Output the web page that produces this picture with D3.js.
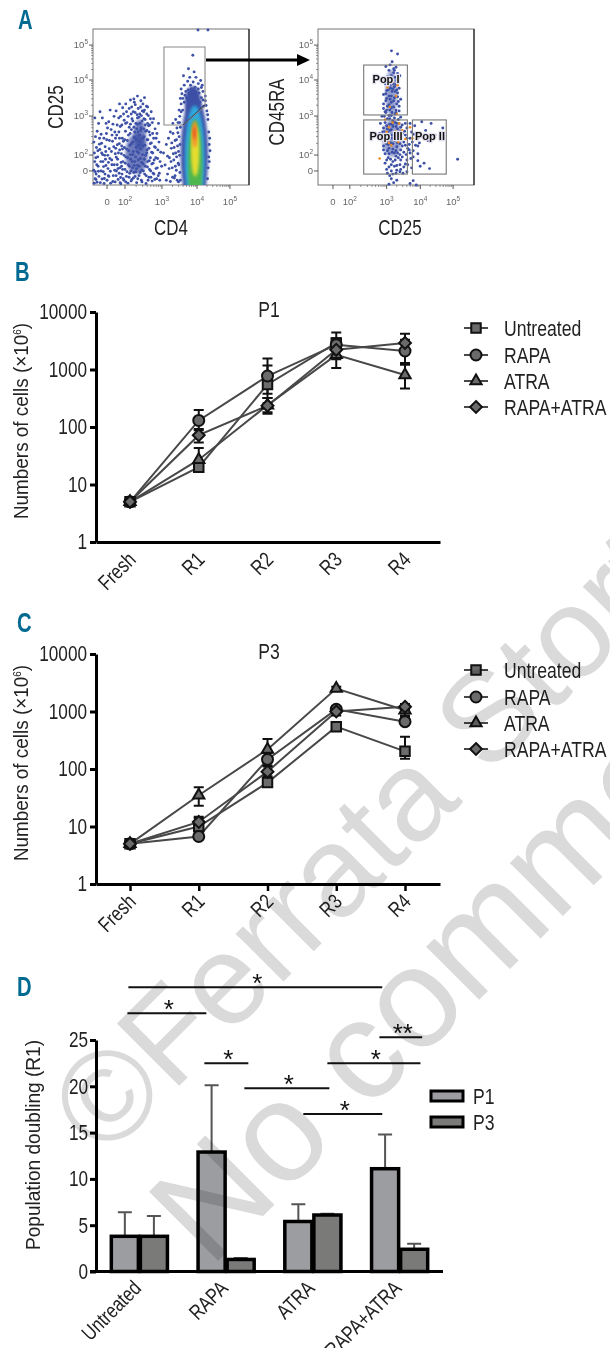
<!DOCTYPE html>
<html>
<head>
<meta charset="utf-8">
<script src="https://d3js.org/d3.v7.min.js"></script>
<style>
  html, body { margin: 0; padding: 0; background: #fff; }
  text { font-family: "Liberation Sans", sans-serif; fill: #222; }
</style>
</head>
<body>
<script>
// line chart values
const rounds = ['Fresh', 'R1', 'R2', 'R3', 'R4'];
const treatments = ['Untreated', 'RAPA', 'ATRA', 'RAPA+ATRA'];
const logTicks = [1, 10, 100, 1000, 10000];

const p1Untreated = [5, 20, 550, 2900, null];
const p1Rapa = [5, 130, 770, 2700, 2100];
const p1Atra = [5, 27, 240, 1800, 800];
const p1Both = [5, 72, 235, 2200, 2900];
const p1High = [[null, 24, 1170, 3500, null], [null, 197, 1550, 4400, 3300], [null, 43, 320, 2700, 1210], [null, 92, 320, 3000, 4200]];
const p1Low = [[null, 17, 260, 2300, null], [null, 88, 380, 1700, 1300], [null, 18, 180, 1060, 465], [null, 54, 170, 1500, 2000]];

const p3Untreated = [5, 10, 58, 545, 203];
const p3Rapa = [5, 6.7, 147, 1090, 665];
const p3Atra = [5, 35, 219, 2500, 1050];
const p3Both = [5, 12, 90, 1000, 1210];
const p3High = [[null, 14.8, 70, 600, 365], [null, 7.5, 190, 1250, 800], [null, 48, 333, 2700, 1300], [null, 14, 110, 1150, 1350]];
const p3Low = [[null, 8, 50, 500, 150], [null, 6, 115, 950, 600], [null, 23, 150, 2300, 850], [null, 10, 75, 850, 1100]];

// bar chart values
const doublingGroups = ['Untreated', 'RAPA', 'ATRA', 'RAPA+ATRA'];
const doublingSeries = ['P1', 'P3'];
const doublingP1 = [3.8, 12.9, 5.4, 11.1];
const doublingP3 = [3.8, 1.3, 6.1, 2.4];
const doublingP1Top = [6.4, 20.1, 7.25, 14.8];
const doublingP3Top = [6.0, 1.45, 6.25, 3.0];
const doublingTicks = [0, 5, 10, 15, 20, 25];
// [from group, to group, level, mark]
const sigBars = [
  [-0.127, 2.80, 30.7, '*'], [-0.138, 0.772, 27.9, '*'], [0.749, 1.256, 22.5, '*'],
  [1.21, 2.19, 19.8, '*'], [1.89, 2.80, 17, '*'], [2.167, 3.24, 22.5, '*'], [2.767, 3.26, 25.3, '**']
];

// flow plots, values are display channels 0-1000 on both axes
const flowTickLabels = ['0', '2', '3', '4', '5'];
const cd4Ticks = [90, 205, 442, 667, 878];
const cd25TicksY = [90, 192, 442, 673, 897];
const cd25Ticks = [96, 204, 440, 656, 866];
const cd45Ticks = [90, 192, 442, 673, 897];

const cd4Gate = [[455, 885], [718, 885], [718, 506], [577, 385], [455, 385]];
const gateSplit = [[577, 385], [718, 515]];
const popGates = [[293, 573, 449, 769], [293, 573, 70, 417], [605, 822, 70, 417]];
const popNames = ['Pop I', 'Pop III', 'Pop II'];
const popLabelPos = [[436, 654], [436, 288], [718, 288]];

// density layers of the CD4+ population: cx, cy, rx, ry
const hotLayers = [[640, 530, 52, 105], [650, 200, 88, 370], [652, 170, 64, 340], [655, 130, 46, 290], [655, 220, 27, 165], [652, 325, 17, 85], [650, 335, 9, 42]];
const hotColors = ['#3c50a6', '#3c50a6', '#2fa9dc', '#4fb74e', '#e6dd2e', '#f2902a', '#e9531f'];
const coreLayers = [[280, 200, 72, 130], [300, 320, 40, 100]];
const columnLayers = [[470, 590, 38, 150], [475, 300, 62, 120]];

const cd4Cloud = [[8,12],[14,40],[5,95],[20,70],[11,150],[26,18],[33,120],[9,205],[38,55],[22,240],[47,15],[16,310],[52,90],[30,180],[58,38],[6,275],[64,150],[44,228],[71,10],[27,345],[77,70],[55,268],[83,125],[62,195],[90,30],[70,300],[96,105],[78,245],[102,55],[36,395],[108,170],[86,330],[113,12],[60,430],[118,215],[93,365],[12,430],[45,470],[130,60],[125,280],[136,130],[128,390],[142,20],[146,235],[150,90],[152,320],[158,165],[161,35],[165,430],[169,265],[172,110],[175,375],[178,8],[182,200],[186,70],[188,300],[192,150],[196,455],[198,30],[201,240],[205,100],[208,345],[211,180],[214,55],[217,400],[220,285],[224,12],[226,130],[229,220],[232,490],[235,75],[238,330],[241,165],[244,25],[247,265],[250,425],[253,110],[256,195],[259,45],[262,370],[265,305],[268,150],[271,515],[274,85],[277,240],[280,15],[283,450],[286,125],[289,340],[292,205],[295,60],[298,280],[301,395],[304,170],[307,540],[310,30],[313,95],[316,475],[319,250],[322,135],[325,360],[328,310],[331,70],[334,420],[337,190],[340,10],[343,505],[346,225],[349,115],[352,290],[355,445],[358,50],[361,155],[364,385],[367,265],[370,90],[373,470],[376,210],[379,25],[382,330],[385,140],[388,425],[391,70],[394,245],[398,360],[402,175],[405,300],[408,40],[412,110],[416,225],[420,395],[425,75],[430,150],[240,545],[262,552],[285,570],[210,520],[305,500],[330,480],[345,455],[368,425],[225,440],[258,470],[190,495],[170,520],[330,560],[295,435],[315,410],[350,395],[170,300],[135,440],[110,480],
  [148,60],[155,130],[163,205],[168,75],[174,15],[180,145],[184,250],[190,100],[194,40],[199,190],[203,290],[207,140],[210,20],[215,230],[218,85],[222,175],[227,320],[231,50],[234,120],[237,255],[240,195],[243,90],[246,355],[249,35],[252,150],[255,275],[258,215],[261,80],[264,125],[267,340],[270,55],[273,180],[276,290],[279,105],[282,215],[284,390],[287,40],[290,160],[293,255],[296,120],[299,320],[302,80],[305,230],[308,365],[311,145],[314,20],[317,195],[320,300],[323,90],[326,425],[329,165],[332,255],[335,120],[338,345],[341,60],[344,205],[347,290],[350,150],[353,30],[356,380],[359,235],[362,100],[365,320],[368,175],[371,50],[374,270],[377,135],[380,400],[383,205],[386,75],[389,300],[392,160],[396,35],[400,240],[404,105],[410,330],[414,170],[418,60],[423,275],[428,30],[434,210],[440,120],
  [285,430],[300,455],[320,520],[275,395],[335,385],[270,465],[310,445],[345,350],[255,410],[325,470],[290,490],[360,340],[305,350],[280,360],[240,390],[350,500],[265,530],[248,500],[215,470],[200,415],[185,385],[155,385],[140,340],[122,320],[105,285],[95,190],[80,165],[66,85],[50,150],[42,300],[24,130],[15,85],
  [18,175],[35,88],[41,262],[56,205],[68,118],[73,42],[82,215],[88,290],[99,145],[104,232],[111,88],[116,355],[120,160],[127,22],[133,245],[139,95],[144,300],[149,178],[156,258],[160,105],[166,340],[171,225],[177,48],[183,120],[189,230],[195,280],[143,200],[121,130],[98,60],[75,190],[52,325],[31,220],[19,35],[101,405],[84,395],[148,475],[177,440],[209,395],[232,370],[245,455]];
const cd4Side = [[452,205],[462,128],[470,260],[478,70],[484,300],[490,175],[496,22],[502,235],[508,110],[513,330],[518,160],[522,45],[526,285],[530,205],[534,95],[538,365],[542,250],[546,140],[548,20],[552,310],[555,190],[557,80],[496,340],[512,395],[530,420],[545,400],[478,185],[526,60],[505,270],[540,30],[520,240],[536,180],[550,130],[515,200],[528,120],[544,335],[558,260],[560,370],[535,290],[510,50],[560,30],[548,215],[500,150],[488,105],[470,30]];
const cd4Upper = [[580,700],[612,745],[640,832],[625,640],[655,625],[690,670],[610,610],[660,690],[595,600],[640,590],[675,615],[705,600],[570,585],[600,560],[630,555],[665,575],[695,560],[720,540],[585,530],[615,520],[650,530],[685,530],[710,505],[565,520],[575,480],[730,475],[737,420],[742,340],[745,260],[742,180],[738,110],[734,40],[556,440],[552,480],[673,994],[737,994],[648,725],[620,690],[675,650],[585,640],[607,665],[565,615],[700,640],[720,570],[642,660],[590,575],[615,590],[650,570],[680,590],[705,545],[575,555],[620,570],[660,600],[695,625],[630,615],[605,545],[725,510],[565,470],[735,450],[748,300],[750,220],[560,555],[745,150],[555,400]];

const popColumn = [[471,860],[510,840],[475,790],[435,760],[500,755],[455,735],[485,720],[525,700],[445,695],[470,680],[505,670],[430,650],[460,640],[490,630],[520,620],[440,605],[475,600],[510,590],[420,580],[455,570],[490,560],[530,550],[435,540],[470,530],[505,520],[445,505],[485,500],[420,490],[460,480],[520,475],[435,465],[495,455],[470,445],[410,440],[445,425],[515,420],[480,410],[430,400],[460,390],[540,385],[500,375],[420,365],[470,355],[525,345],[445,335],[490,325],[560,320],[410,310],[465,300],[515,295],[440,285],[550,275],[480,265],[585,260],[420,250],[505,245],[455,235],[530,225],[610,220],[475,210],[430,200],[565,195],[500,185],[450,175],[595,170],[530,160],[480,150],[430,140],[560,135],[505,125],[455,115],[600,110],[530,100],[470,90],[500,75],[570,85],[445,75],[620,380],[600,340],[640,300],[590,300],[625,255],[470,40],[485,15],[455,5],[505,30],[610,28],[590,10],[630,0],[640,200],[665,405],[690,350],[725,395],[800,365],[665,310],[705,285],[750,320],[640,155],[655,120],[680,140],[715,105],[895,165],[470,570],[482,650],[495,690],[450,610],[505,610],[440,555],[515,535],[470,495],[500,480],[430,470],[455,445],[530,435],[480,375],[445,360],[510,360],[425,340],[540,330],[475,320],[510,270],[450,260],[540,250],[420,225],[480,230],[575,235],[510,205],[455,200],[540,180],[490,120],[525,130],[470,130],[570,160],[590,205],[490,285],[530,300],[440,310],[425,280],[570,300],[520,395],[560,395],[590,395],[495,400],[460,350],
  [450,660],[480,615],[500,645],[465,620],[495,600],[435,585],[510,565],[462,550],[485,540],[420,520],[455,515],[520,505],[440,480],[500,465],[475,465],[425,440],[490,430],[460,425],[505,395],[440,380],[475,390],[530,370],[415,340],[500,340],[450,320],[555,345],[480,300],[440,265],[525,265],[465,270],[500,220],[560,255],[445,220],[490,205],[525,195],[465,165],[515,175],[585,225],[605,275],[550,210],[440,160],[495,160],[550,115],[440,100],[505,95],[545,75],[480,70],[525,85],[460,60],[420,300],[395,330],[400,395],[570,365],[615,325],[650,270],[640,250],[610,180],[575,130],[470,700],[455,675],[490,735],[510,715],[462,770],[485,745]];
const popOrange = [[478,660],[510,640],[445,625],[500,570],[460,500],[505,455],[430,420],[478,400],[520,395],[455,370],[500,345],[440,340],[540,350],[590,370],[605,300],[455,270],[515,275],[395,170],[560,295],[470,255]];

const width = 610;
const height = 1348;
const narrowness = 0.8;

const svg = d3.select('body')
  .append('svg')
  .attr('width', width)
  .attr('height', height)
  .style('display', 'block');

const defs = svg.append('defs');
defs.append('filter')
  .attr('id', 'soft')
  .append('feGaussianBlur')
  .attr('stdDeviation', 1.5);

// panel letters
[['A', 18, 29], ['B', 15, 281], ['C', 17, 632], ['D', 17, 996]].forEach(([t, x, y]) => {
  svg.append('text')
    .attr('x', x).attr('y', y)
    .attr('font-size', 27)
    .attr('font-weight', 'bold')
    .attr('data-k', 0.75)
    .style('fill', '#006a91')
    .text(t);
});

// one flow plot: frame, ticks and tick labels
function flowFrame(left, xTicks, yTicks) {
  const x = d3.scaleLinear().domain([0, 1000]).range([left, left + 156]);
  const y = d3.scaleLinear().domain([0, 1000]).range([185, 29]);
  const g = svg.append('g');

  g.append('rect')
    .attr('x', left).attr('y', 29)
    .attr('width', 156).attr('height', 156)
    .attr('fill', 'none')
    .attr('stroke', '#777')
    .attr('stroke-width', 1);
  g.append('line').attr('x1', left + 156).attr('x2', left + 156).attr('y1', 29).attr('y2', 185)
    .attr('stroke', '#222').attr('stroke-width', 1.2);

  const minor = t => d3.range(1, t.length - 1).flatMap(i =>
    d3.range(2, 10).map(k => t[i] + Math.log10(k) * (t[i + 1] - t[i])));

  g.selectAll('.xm').data(minor(xTicks)).enter().append('line')
    .attr('x1', d => x(d)).attr('x2', d => x(d)).attr('y1', 185).attr('y2', 187)
    .attr('stroke', '#666').attr('stroke-width', 0.7);
  g.selectAll('.ym').data(minor(yTicks)).enter().append('line')
    .attr('y1', d => y(d)).attr('y2', d => y(d)).attr('x1', left).attr('x2', left - 2)
    .attr('stroke', '#666').attr('stroke-width', 0.7);
  g.selectAll('.xt').data(xTicks).enter().append('line')
    .attr('x1', d => x(d)).attr('x2', d => x(d)).attr('y1', 185).attr('y2', 189)
    .attr('stroke', '#444').attr('stroke-width', 0.9);
  g.selectAll('.yt').data(yTicks).enter().append('line')
    .attr('y1', d => y(d)).attr('y2', d => y(d)).attr('x1', left).attr('x2', left - 4)
    .attr('stroke', '#444').attr('stroke-width', 0.9);

  const tickLabel = (sel, i) => {
    sel.style('fill', '#666').attr('font-size', 9.5).attr('data-k', 1);
    if (i === 0) { sel.text('0'); return; }
    sel.append('tspan').text('10');
    sel.append('tspan').attr('dy', -4).attr('font-size', 6.5).text(flowTickLabels[i]);
  };
  xTicks.forEach((t, i) => {
    g.append('text').attr('x', x(t)).attr('y', 205)
      .attr('text-anchor', 'middle').call(tickLabel, i);
  });
  yTicks.forEach((t, i) => {
    g.append('text').attr('x', left - 5).attr('y', y(t) + 3)
      .attr('text-anchor', 'end').call(tickLabel, i);
  });
  return { x, y, g };
}

function dots(f, data, r, color) {
  f.g.selectAll(null).data(data).enter().append('circle')
    .attr('cx', d => f.x(d[0]))
    .attr('cy', d => f.y(d[1]))
    .attr('r', r)
    .attr('fill', color);
}

function blobs(f, parent, data, fill, opacity) {
  parent.selectAll(null).data(data).enter().append('ellipse')
    .attr('cx', d => f.x(d[0]))
    .attr('cy', d => f.y(d[1]))
    .attr('rx', d => f.x(d[2]) - f.x(0))
    .attr('ry', d => f.y(0) - f.y(d[3]))
    .attr('fill', fill)
    .attr('opacity', opacity)
    .attr('filter', 'url(#soft)');
}

// left flow plot, CD4 against CD25
const flowA = flowFrame(93, cd4Ticks, cd25TicksY);
defs.append('clipPath').attr('id', 'flowClip')
  .append('rect').attr('x', 93).attr('y', 29).attr('width', 156).attr('height', 156);
const hot = flowA.g.append('g').attr('clip-path', 'url(#flowClip)');
blobs(flowA, hot, coreLayers, '#3c50a6', 0.75);
blobs(flowA, hot, hotLayers, (d, i) => hotColors[i], 1);
dots(flowA, cd4Cloud, 1.45, '#3c50a6');
dots(flowA, cd4Side, 1.45, '#3c50a6');
dots(flowA, cd4Upper, 1.45, '#3c50a6');

const gateLine = d3.line().x(d => flowA.x(d[0])).y(d => flowA.y(d[1]));
flowA.g.append('path')
  .attr('d', gateLine(cd4Gate) + 'Z')
  .attr('fill', 'none').attr('stroke', '#8a8a8a').attr('stroke-width', 1.1);
flowA.g.append('path').attr('d', gateLine(gateSplit))
  .attr('fill', 'none').attr('stroke', '#223').attr('stroke-width', 0.7);

// right flow plot, CD25 against CD45RA
const flowB = flowFrame(318, cd25Ticks, cd45Ticks);
blobs(flowB, flowB.g, columnLayers, '#3c50a6', 0.55);
dots(flowB, popColumn, 1.45, '#3c50a6');
dots(flowB, popOrange, 1.3, '#ef8a1f');
flowB.g.selectAll('.gate').data(popGates).enter().append('rect')
  .attr('x', d => flowB.x(d[0]))
  .attr('y', d => flowB.y(d[3]))
  .attr('width', d => flowB.x(d[1]) - flowB.x(d[0]))
  .attr('height', d => flowB.y(d[2]) - flowB.y(d[3]))
  .attr('fill', 'none').attr('stroke', '#777').attr('stroke-width', 1.1);
popNames.forEach((name, i) => {
  flowB.g.append('text')
    .attr('x', flowB.x(popLabelPos[i][0]))
    .attr('y', flowB.y(popLabelPos[i][1]))
    .attr('text-anchor', 'middle')
    .attr('font-size', 11)
    .attr('font-weight', 'bold')
    .attr('stroke', '#e6e3f0')
    .attr('stroke-width', 2.5)
    .attr('data-k', 1)
    .style('paint-order', 'stroke')
    .style('fill', '#111')
    .text(name);
});

// gate arrow between the two plots
svg.append('line').attr('x1', 206).attr('x2', 298).attr('y1', 60).attr('y2', 60)
  .attr('stroke', '#000').attr('stroke-width', 3);
svg.append('path').attr('d', 'M297,54L310,60L297,66Z').attr('fill', '#000');

function axisText(t, x, y, rotate) {
  return svg.append('text')
    .attr('transform', `translate(${x},${y})` + (rotate ? ' rotate(-90)' : ''))
    .attr('text-anchor', 'middle')
    .attr('font-size', 22)
    .attr('data-k', 0.77)
    .text(t);
}
axisText('CD25', 63, 107, true);
axisText('CD4', 171, 235, false);
axisText('CD45RA', 284, 112, true);
axisText('CD25', 400, 235, false);

const symbols = [d3.symbolSquare, d3.symbolCircle, d3.symbolTriangle, d3.symbolDiamond2];
const symbolSizes = [90, 95, 55, 90];

// panels B and C share the same layout
function linePanel(top, title, series, high, low, showTicks, legendY) {
  const x = d3.scalePoint().domain(rounds).range([130, 405]);
  const y = d3.scaleLog().domain([1, 10000]).range([top + 230, top]);
  const g = svg.append('g');

  const xAxis = d3.axisBottom(d3.scaleLinear().domain([96, 440]).range([96, 440]))
    .tickValues([]).tickSizeOuter(0);
  const yAxis = d3.axisLeft(y).tickValues(logTicks).tickFormat(d3.format('d')).tickSize(6).tickSizeOuter(0);

  const ga = g.append('g').attr('transform', `translate(0,${top + 230})`).call(xAxis);
  ga.select('.domain').attr('stroke', '#000').attr('stroke-width', 3);
  if (showTicks) {
    const gt = g.append('g').attr('transform', `translate(0,${top + 230})`)
      .call(d3.axisBottom(x).tickSize(7).tickFormat(''));
    gt.select('.domain').remove();
    gt.selectAll('line').attr('stroke', '#000').attr('stroke-width', 2.5);
  }
  g.append('g').selectAll('text').data(rounds).enter().append('text')
    .attr('transform', d => `translate(${x(d) + 7},${top + 249}) rotate(-45)`)
    .attr('text-anchor', 'end')
    .attr('font-size', 21)
    .text(d => d);

  const gy = g.append('g').attr('transform', 'translate(96,0)').call(yAxis);
  gy.select('.domain').attr('stroke', '#000').attr('stroke-width', 3);
  gy.selectAll('.tick line').attr('stroke', '#000').attr('stroke-width', 3);
  gy.selectAll('.tick text')
    .attr('font-size', 21.5)
    .attr('x', -9)
    .style('font-family', '"Liberation Sans", sans-serif')
    .style('fill', '#222');

  const yl = svg.append('text')
    .attr('transform', `translate(28,${top + 109}) rotate(-90)`)
    .attr('text-anchor', 'middle')
    .attr('font-size', 21)
    .attr('data-k', 0.9);
  yl.append('tspan').text('Numbers of cells (×10');
  yl.append('tspan').attr('dy', -7).attr('font-size', 11).text('6');
  yl.append('tspan').attr('dy', 7).text(')');

  g.append('text').attr('x', 269).attr('y', top + 5)
    .attr('text-anchor', 'middle').attr('font-size', 22).text(title);

  const line = d3.line()
    .defined(d => d != null)
    .x((d, i) => x(rounds[i]))
    .y(d => y(d));

  series.forEach(values => {
    g.append('path')
      .attr('d', line(values))
      .attr('fill', 'none')
      .attr('stroke', '#484848')
      .attr('stroke-width', 2);
  });
  series.forEach((values, s) => {
    rounds.forEach((r, i) => {
      if (high[s][i] == null) return;
      const path = `M${x(r)},${y(low[s][i])}V${y(high[s][i])}` +
        `M${x(r) - 5},${y(high[s][i])}h10M${x(r) - 5},${y(low[s][i])}h10`;
      g.append('path').attr('d', path).attr('fill', 'none')
        .attr('stroke', '#111').attr('stroke-width', 2);
    });
  });
  series.forEach((values, s) => {
    g.selectAll(null).data(values.map((v, i) => [v, i]).filter(d => d[0] != null)).enter().append('path')
      .attr('d', d3.symbol().type(symbols[s]).size(symbolSizes[s]))
      .attr('transform', d => `translate(${x(rounds[d[1]])},${y(d[0])})`)
      .attr('fill', '#6b6b6b')
      .attr('stroke', '#111')
      .attr('stroke-width', 2);
  });

  // legend
  treatments.forEach((t, i) => {
    g.append('line').attr('x1', 464).attr('x2', 488).attr('y1', legendY[i]).attr('y2', legendY[i])
      .attr('stroke', '#484848').attr('stroke-width', 2);
    g.append('path')
      .attr('d', d3.symbol().type(symbols[i]).size(symbolSizes[i]))
      .attr('transform', `translate(476,${legendY[i]})`)
      .attr('fill', '#6b6b6b').attr('stroke', '#111').attr('stroke-width', 2);
    g.append('text').attr('x', 504).attr('y', legendY[i] + 8)
      .attr('font-size', 22).text(t);
  });
}

linePanel(312, 'P1', [p1Untreated, p1Rapa, p1Atra, p1Both], p1High, p1Low, false, [328, 355, 381, 407]);
linePanel(654, 'P3', [p3Untreated, p3Rapa, p3Atra, p3Both], p3High, p3Low, true, [670, 697, 723, 749]);

// panel D, grouped bars
const dx = d3.scaleBand().domain(doublingGroups).range([96, 443]).paddingInner(0.33).paddingOuter(0.165);
const dInner = d3.scaleBand().domain(doublingSeries).range([0, dx.bandwidth()]);
const dy = d3.scaleLinear().domain([0, 25]).range([1271.5, 1040]);
const sigX = d3.scaleLinear().domain([-0.5, 3.5]).range([96, 443]);
const barFill = { P1: '#9c9da1', P3: '#7a7a78' };
const barValues = { P1: doublingP1, P3: doublingP3 };
const barTops = { P1: doublingP1Top, P3: doublingP3Top };
const gd = svg.append('g');

doublingSeries.forEach(s => {
  doublingGroups.forEach((c, i) => {
    const cx = dx(c) + dInner(s) + dInner.bandwidth() / 2;
    gd.append('path')
      .attr('d', `M${cx},${dy(barValues[s][i])}V${dy(barTops[s][i])}M${cx - 7},${dy(barTops[s][i])}h14`)
      .attr('fill', 'none').attr('stroke', '#555').attr('stroke-width', 2);
  });
  gd.selectAll(null).data(doublingGroups).enter().append('rect')
    .attr('x', d => dx(d) + dInner(s) + 1)
    .attr('y', (d, i) => dy(barValues[s][i]))
    .attr('width', dInner.bandwidth() - 2)
    .attr('height', (d, i) => dy(0) - dy(barValues[s][i]))
    .attr('fill', barFill[s])
    .attr('stroke', '#000')
    .attr('stroke-width', 3.5);
});

const gdy = gd.append('g').attr('transform', 'translate(96,0)')
  .call(d3.axisLeft(dy).tickValues(doublingTicks).tickSize(6).tickSizeOuter(0));
gdy.select('.domain').attr('stroke', '#000').attr('stroke-width', 3);
gdy.selectAll('.tick line').attr('stroke', '#000').attr('stroke-width', 3);
gdy.selectAll('.tick text')
  .attr('font-size', 21.5).attr('x', -8)
  .style('font-family', '"Liberation Sans", sans-serif')
  .style('fill', '#222');
gd.append('line').attr('x1', 90).attr('x2', 443).attr('y1', dy(0)).attr('y2', dy(0))
  .attr('stroke', '#000').attr('stroke-width', 3);

gd.selectAll(null).data(doublingGroups).enter().append('text')
  .attr('transform', d => `translate(${dx(d) + dx.bandwidth() / 2 + 3},${dy(0) + 18}) rotate(-45)`)
  .attr('text-anchor', 'end')
  .attr('font-size', 21)
  .text(d => d);

svg.append('text')
  .attr('transform', 'translate(40,1145) rotate(-90)')
  .attr('text-anchor', 'middle')
  .attr('font-size', 21)
  .attr('data-k', 0.91)
  .text('Population doubling (R1)');

sigBars.forEach(d => {
  gd.append('line')
    .attr('x1', sigX(d[0])).attr('x2', sigX(d[1]))
    .attr('y1', dy(d[2])).attr('y2', dy(d[2]))
    .attr('stroke', '#111').attr('stroke-width', 2);
  gd.append('text')
    .attr('x', (sigX(d[0]) + sigX(d[1])) / 2 + 2)
    .attr('y', dy(d[2]) + 5)
    .attr('text-anchor', 'middle')
    .attr('font-size', 26)
    .attr('data-k', 1)
    .style('fill', '#111')
    .text(d[3]);
});

const legendD = [1096, 1122];
doublingSeries.forEach((s, i) => {
  gd.append('rect')
    .attr('x', 431).attr('y', legendD[i] - 5)
    .attr('width', 32).attr('height', 10)
    .attr('fill', barFill[s]).attr('stroke', '#000').attr('stroke-width', 3);
  gd.append('text').attr('x', 473).attr('y', legendD[i] + 8)
    .attr('font-size', 22).text(s);
});

// the narrow journal face is not installed, so squeeze the labels sideways
svg.selectAll('text').each(function () {
  const t = d3.select(this);
  const k = +(t.attr('data-k') || narrowness);
  if (k === 1) return;
  if (t.attr('x') != null) t.attr('x', +t.attr('x') / k);
  t.attr('transform', (t.attr('transform') || '') + ` scale(${k},1)`);
});

// journal watermark over everything
const wm = svg.append('g').style('mix-blend-mode', 'multiply');
[['©Ferrata Storti', 105, 1160, 128], ['No commercial use', 210, 1269, 142]].forEach(([t, x, y, size]) => {
  wm.append('text')
    .attr('transform', `translate(${x},${y}) rotate(-45)`)
    .attr('font-size', size)
    .style('fill', '#dadada')
    .text(t);
});
</script>
</body>
</html>
